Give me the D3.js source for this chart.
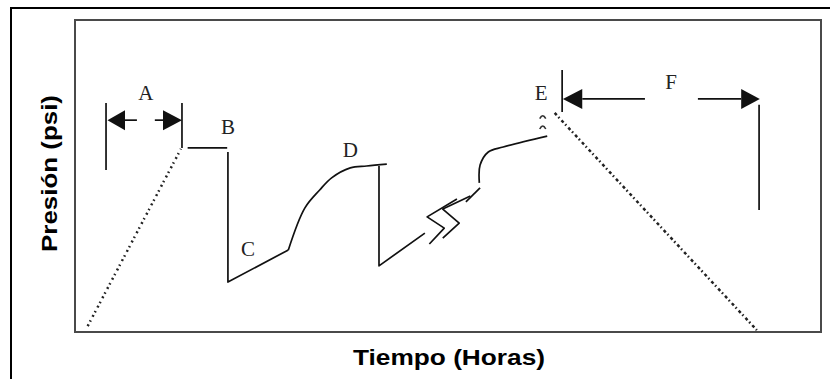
<!DOCTYPE html>
<html>
<head>
<meta charset="utf-8">
<script src="https://cdn.jsdelivr.net/npm/d3@7"></script>
<style>
  body { margin: 0; background: #fff; }
  .lbl { font-family: "Liberation Serif", "DejaVu Serif", serif; font-size: 21px; fill: #222; }
  .axis-title { font-family: "Liberation Sans", Arial, sans-serif; font-weight: bold; font-size: 22px; fill: #000; }
</style>
</head>
<body>
<div id="chart"></div>
<script>
// time (h) / pressure (psi), arbitrary units
let riseData = [{t: 1.7, p: 1.9}, {t: 14.2, p: 58.7}]
let plateauB = [{t: 15.1, p: 59.0}, {t: 20.4, p: 59.0}]
let drawdownC = [{t: 20.5, p: 57.7}, {t: 20.5, p: 16.0}, {t: 28.6, p: 26.3}]
let buildupD = [{t: 28.6, p: 26.3}, {t: 30.8, p: 39.7}, {t: 32.8, p: 45.5}, {t: 34.4, p: 49.4},
                {t: 36.9, p: 52.6}, {t: 39.1, p: 53.2}, {t: 41.8, p: 53.8}]
let drop2 = [{t: 40.75, p: 53.2}, {t: 40.75, p: 21.2}, {t: 46.9, p: 31.7}]
let breakMark1 = [{t: 51.2, p: 42.6}, {t: 47.2, p: 36.9}, {t: 49.5, p: 33.3}, {t: 47.5, p: 28.2}]
let breakMark2 = [{t: 53.0, p: 43.6}, {t: 49.3, p: 39.4}, {t: 51.5, p: 34.9}, {t: 49.3, p: 30.1}]
let dashAfter = [{t: 52.4, p: 41.7}, {t: 54.3, p: 46.2}]
let recovery = [{t: 54.2, p: 47.8}, {t: 54.3, p: 53.5}, {t: 55.4, p: 57.7}, {t: 57.4, p: 59.3}, {t: 63.3, p: 62.8}]
let falloffData = [{t: 64.3, p: 70.2}, {t: 91.4, p: 0.6}]
let caretMarks = [{t: 62.7, p: 69.0}, {t: 62.7, p: 65.7}]

// annotation brackets
let bracketA = {left: 4.16, right: 14.34, arrowP: 67.9, barTop: 73.4, leftBottom: 51.9, rightBottom: 59.0,
                shaftL: [6.7, 8.3], shaftR: [10.7, 11.8]}
let bracketF = {left: 65.3, right: 91.8, arrowP: 74.7, leftTop: 84.0, leftBottom: 70.5,
                rightBar: 91.7, rightTop: 72.8, rightBottom: 39.1, shaftL: [68.0, 76.4], shaftR: [83.5, 89.3]}

let pointLabels = ["A", "B", "C", "D", "E", "F"]
let labelT = [9.5, 20.5, 23.2, 36.9, 62.5, 79.9]
let labelP = [74.4, 63.5, 24.4, 56.1, 74.4, 77.9]

let xTitle = "Tiempo (Horas)"
let yTitle = "Presión (psi)"

const W = 830, H = 379
const margin = {top: 20, right: 9, bottom: 47, left: 75}

let svg = d3.select("#chart").append("svg")
    .attr("width", W)
    .attr("height", H)

// outer frame (open at right and bottom)
svg.append("path")
    .attr("d", `M11,${H} V8 H${W}`)
    .attr("fill", "none")
    .attr("stroke", "#000")
    .attr("stroke-width", 2)

let x = d3.scaleLinear().domain([0, 100]).range([margin.left, W - margin.right])
let y = d3.scaleLinear().domain([0, 100]).range([H - margin.bottom, margin.top])

// plot box
svg.append("rect")
    .attr("x", x(0)).attr("y", y(100))
    .attr("width", x(100) - x(0)).attr("height", y(0) - y(100))
    .attr("fill", "none")
    .attr("stroke", "#4a4a4a")
    .attr("stroke-width", 2)

let line = d3.line().x(d => x(d.t)).y(d => y(d.p))
let smooth = d3.line().x(d => x(d.t)).y(d => y(d.p)).curve(d3.curveCatmullRom.alpha(0.5))

function solid(data, gen) {
    svg.append("path")
        .attr("d", (gen || line)(data))
        .attr("fill", "none")
        .attr("stroke", "#111")
        .attr("stroke-width", 1.7)
        .attr("stroke-linejoin", "round")
}

// dotted ramps
svg.append("path")
    .attr("d", line(riseData))
    .attr("fill", "none")
    .attr("stroke", "#222")
    .attr("stroke-width", 2.5)
    .attr("stroke-dasharray", "2,3,1.5,4")
svg.append("path")
    .attr("d", line(falloffData))
    .attr("fill", "none")
    .attr("stroke", "#222")
    .attr("stroke-width", 2.5)
    .attr("stroke-dasharray", "3,2.5,1.5,3")

solid(plateauB)
solid(drawdownC)
solid(buildupD, smooth)
solid(drop2)
solid(breakMark1)
solid(breakMark2)
solid(dashAfter)
solid(recovery, smooth)

// small caret marks near E
svg.selectAll(".caret")
    .data(caretMarks)
    .enter().append("path")
    .attr("class", "caret")
    .attr("d", d => `M${x(d.t) - 3},${y(d.p) + 2} Q${x(d.t)},${y(d.p) - 4} ${x(d.t) + 3},${y(d.p) + 2}`)
    .attr("fill", "none")
    .attr("stroke", "#333")
    .attr("stroke-width", 1.6)

// arrowheads
function arrowHead(tipT, baseT, p) {
    let hh = 10
    svg.append("path")
        .attr("d", `M${x(tipT)},${y(p)} L${x(baseT)},${y(p) - hh} L${x(baseT)},${y(p) + hh} Z`)
        .attr("fill", "#111")
}

function vbar(t, p0, p1) {
    svg.append("line")
        .attr("x1", x(t)).attr("x2", x(t))
        .attr("y1", y(p0)).attr("y2", y(p1))
        .attr("stroke", "#111").attr("stroke-width", 1.7)
}

function hshaft(t0, t1, p) {
    svg.append("line")
        .attr("x1", x(t0)).attr("x2", x(t1))
        .attr("y1", y(p)).attr("y2", y(p))
        .attr("stroke", "#111").attr("stroke-width", 1.7)
}

// bracket A
let a = bracketA
vbar(a.left, a.barTop, a.leftBottom)
vbar(a.right, a.barTop, a.rightBottom)
hshaft(a.shaftL[0], a.shaftL[1], a.arrowP)
hshaft(a.shaftR[0], a.shaftR[1], a.arrowP)
arrowHead(a.left + 0.2, a.shaftL[0], a.arrowP)
arrowHead(a.right, a.shaftR[1], a.arrowP)

// bracket F
let f = bracketF
vbar(f.left, f.leftTop, f.leftBottom)
vbar(f.rightBar, f.rightTop, f.rightBottom)
hshaft(f.shaftL[0], f.shaftL[1], f.arrowP)
hshaft(f.shaftR[0], f.shaftR[1], f.arrowP)
arrowHead(f.left + 0.1, f.shaftL[0], f.arrowP)
arrowHead(f.right, f.shaftR[1], f.arrowP)

// point labels
svg.selectAll(".lbl")
    .data(pointLabels)
    .enter().append("text")
    .attr("class", "lbl")
    .attr("text-anchor", "middle")
    .attr("x", (d, i) => x(labelT[i]))
    .attr("y", (d, i) => y(labelP[i]))
    .text(d => d)

// axis titles
svg.append("text")
    .attr("class", "axis-title")
    .attr("text-anchor", "middle")
    .attr("x", 449)
    .attr("y", 365)
    .attr("textLength", 192)
    .attr("lengthAdjust", "spacingAndGlyphs")
    .text(xTitle)

svg.append("text")
    .attr("class", "axis-title")
    .attr("text-anchor", "middle")
    .attr("transform", "translate(57,173.5) rotate(-90)")
    .attr("textLength", 157)
    .attr("lengthAdjust", "spacingAndGlyphs")
    .text(yTitle)
</script>
</body>
</html>
